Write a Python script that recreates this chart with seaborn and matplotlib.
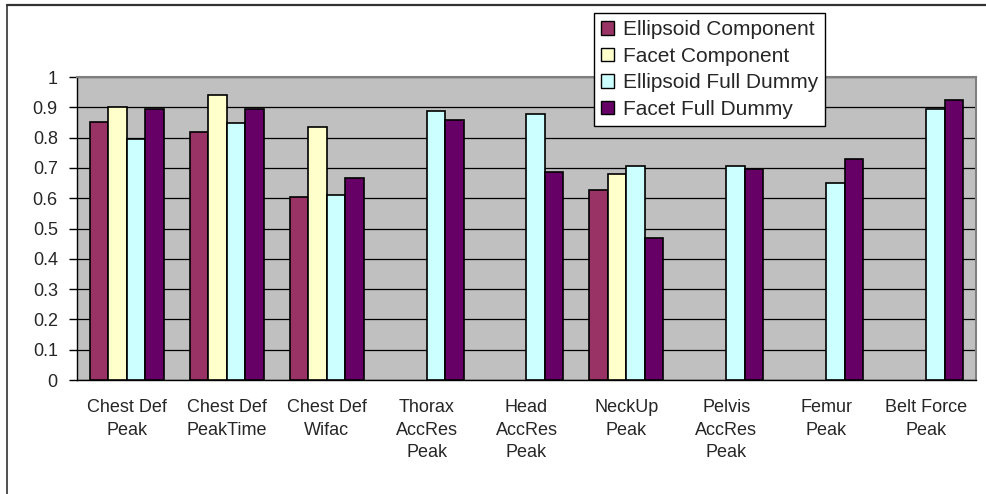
import numpy as np
import pandas as pd
import matplotlib
matplotlib.use("Agg")
import matplotlib.pyplot as plt
from matplotlib.lines import Line2D
from matplotlib.patches import Patch
import seaborn as sns

categories = ["Chest Def\nPeak", "Chest Def\nPeakTime", "Chest Def\nWifac",
              "Thorax\nAccRes\nPeak", "Head\nAccRes\nPeak", "NeckUp\nPeak",
              "Pelvis\nAccRes\nPeak", "Femur\nPeak", "Belt Force\nPeak"]
series = ["Ellipsoid Component", "Facet Component", "Ellipsoid Full Dummy", "Facet Full Dummy"]
ellipsoid_component = [0.853, 0.819, 0.605, np.nan, np.nan, 0.627, np.nan, np.nan, np.nan]
facet_component = [0.900, 0.942, 0.836, np.nan, np.nan, 0.680, np.nan, np.nan, np.nan]
ellipsoid_full = [0.796, 0.848, 0.609, 0.889, 0.878, 0.707, 0.707, 0.650, 0.894]
facet_full = [0.894, 0.894, 0.668, 0.859, 0.685, 0.470, 0.698, 0.731, 0.923]
colors = ["#993366", "#FFFFCC", "#CCFFFF", "#660066"]
yticks = [0, 0.1, 0.2, 0.3, 0.4, 0.5, 0.6, 0.7, 0.8, 0.9, 1]
ytick_labels = ["0", "0.1", "0.2", "0.3", "0.4", "0.5", "0.6", "0.7", "0.8", "0.9", "1"]

rows = []
for s, vals in zip(series, [ellipsoid_component, facet_component, ellipsoid_full, facet_full]):
    for c, v in zip(categories, vals):
        rows.append({"cat": c, "series": s, "value": v})
df = pd.DataFrame(rows)

sns.set_style("white")
plt.rcParams["font.family"] = ["Liberation Sans", "DejaVu Sans"]

fig = plt.figure(figsize=(9.87, 4.94), dpi=100)
ax = fig.add_axes([77/987, 1-380/494, (976-77)/987, (380-77)/494])
ax.set_facecolor("#C0C0C0")

sns.barplot(data=df, x="cat", y="value", hue="series", order=categories,
            hue_order=series, palette=colors, width=0.74, gap=0,
            edgecolor="black", linewidth=1.2, errorbar=None, legend=False,
            saturation=1, ax=ax, zorder=3)

ax.set_ylim(0, 1)
ax.set_xlim(-0.5, len(categories) - 0.5)
ax.set_yticks(yticks)
ax.set_yticklabels(ytick_labels, fontsize=13)
ax.yaxis.grid(True, color="black", linewidth=0.9, zorder=1)
ax.set_axisbelow(True)
ax.set_xlabel("")
ax.set_ylabel("")
ax.set_xticks(range(len(categories)))
ax.set_xticklabels(categories, fontsize=13, linespacing=1.4, va="top")
ax.set_xticks(np.arange(-0.5, len(categories) + 0.5, 1), minor=True)
ax.tick_params(axis="x", which="major", length=0, pad=14)
ax.tick_params(axis="x", which="minor", length=3.6, width=1, color="black", direction="out")
ax.tick_params(axis="y", which="major", length=5.8, width=1, color="black", direction="out", pad=8, left=True)
for side in ["left", "bottom"]:
    ax.spines[side].set_color("black")
    ax.spines[side].set_linewidth(1)
for side in ["top", "right"]:
    ax.spines[side].set_visible(True)
    ax.spines[side].set_color("#808080")
    ax.spines[side].set_linewidth(1.5)

handles = [Patch(facecolor=c, edgecolor="black", linewidth=1) for c in colors]
leg = fig.legend(handles, series, loc="upper left",
                 bbox_to_anchor=(594/987, 1-13/494), fontsize=15,
                 frameon=True, fancybox=False, edgecolor="black",
                 handlelength=0.63, handleheight=0.63, handletextpad=0.4,
                 labelspacing=0.36, borderpad=0.35, borderaxespad=0)
leg.get_frame().set_linewidth(1)
leg.get_frame().set_facecolor("white")
leg.get_frame().set_alpha(1)

fig.add_artist(Line2D([7/987, 1], [1-5/494, 1-5/494], color="#333333", lw=1.6, transform=fig.transFigure))
fig.add_artist(Line2D([7/987, 7/987], [1-5/494, 0], color="#333333", lw=1.2, transform=fig.transFigure))

fig.savefig("out.png", dpi=100)
